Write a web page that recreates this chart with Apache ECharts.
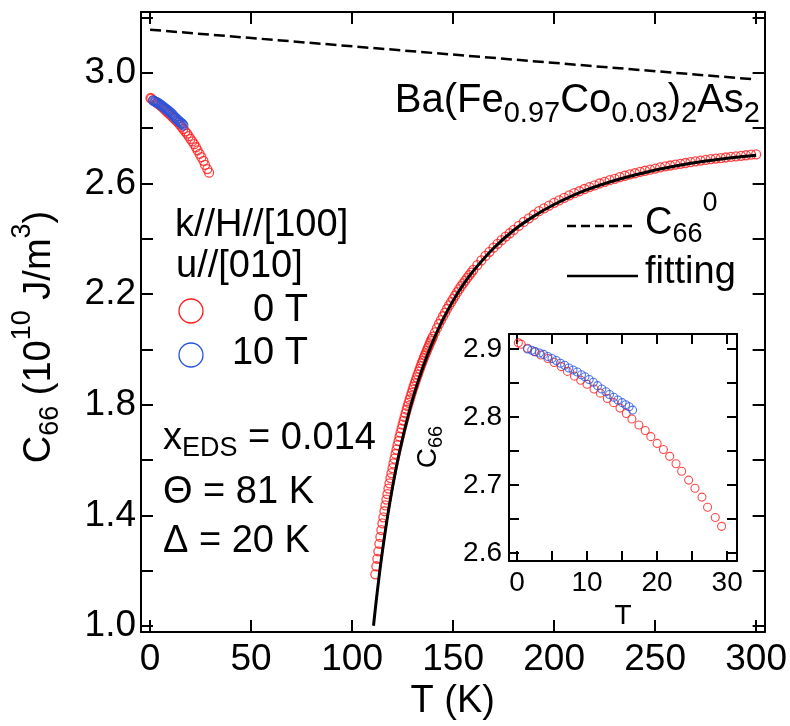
<!DOCTYPE html>
<html>
<head>
<meta charset="utf-8">
<script src="https://cdn.jsdelivr.net/npm/echarts@6/dist/echarts.min.js"></script>
<style>
  html, body { margin: 0; padding: 0; background: #fff; }
  #chart { width: 790px; height: 726px; }
</style>
</head>
<body>
<div id="chart"></div>
<script>
const FONT = "'Liberation Sans', Arial, Helvetica, sans-serif";
const RED = '#ff1a1a';
const BLUE = '#2455e0';

// C66^0 background (dashed line), T in K, C66 in 10^10 J/m^3
const bgT = [0, 300];
const bgC = [3.156, 2.976];

// 0 T data, low-temperature branch (below the structural transition)
const lowT0 = [0.2, 0.6, 1.5, 2.5, 3.4, 4.4, 5.3, 6.3, 7.2, 8.2, 9.1, 10.0, 11.0, 11.9, 12.9, 13.8, 14.7, 15.6,
  16.4, 17.4, 18.3, 19.1, 20.0, 20.9, 21.8, 22.7, 23.5, 24.5, 25.4, 26.4, 27.2, 28.3, 29.2];
const lowC0 = [2.909, 2.907, 2.901, 2.896, 2.891, 2.886, 2.880, 2.874, 2.867, 2.860, 2.854, 2.848, 2.841, 2.835, 2.827, 2.821, 2.813, 2.805,
  2.797, 2.788, 2.780, 2.771, 2.761, 2.752, 2.742, 2.731, 2.720, 2.707, 2.695, 2.682, 2.667, 2.652, 2.639];

// 10 T data, low-temperature branch
const lowT10 = [1.5, 2.1, 2.6, 3.2, 3.8, 4.4, 5.0, 5.6, 6.2, 6.8, 7.4, 8.0, 8.6, 9.2, 9.7, 10.3, 10.9, 11.5,
  12.1, 12.7, 13.2, 13.8, 14.4, 15.0, 15.5, 16.0, 16.5];
const lowC10 = [2.900, 2.898, 2.896, 2.894, 2.892, 2.889, 2.886, 2.883, 2.879, 2.876, 2.872, 2.869, 2.866, 2.862, 2.859, 2.855, 2.851, 2.846,
  2.841, 2.837, 2.833, 2.829, 2.825, 2.821, 2.818, 2.815, 2.810];

// 0 T data, high-temperature branch (softening towards Ts)
const highT0 = [
  111.5, 112.0, 112.5, 113.0, 113.5, 114.0, 114.5, 115.0, 115.5, 116.0, 116.5, 117.0, 117.5, 118.0, 118.5, 119.0, 119.5, 120.0,
  120.5, 121.0, 121.5, 122.0, 122.5, 123.0, 123.5, 124.0, 124.5, 125.0, 125.5, 126.0, 126.5, 127.0, 127.5, 128.0, 128.5, 129.0,
  129.5, 130.0, 130.5, 131.0, 131.5, 132.0, 132.5, 133.0, 133.5, 134.0, 134.5, 135.0, 135.5, 136.0, 136.5, 137.0, 137.5, 138.0,
  138.5, 139.0, 139.5, 140.0,
  141, 142, 143, 144, 145, 146, 147, 148, 149, 150, 151, 152, 153, 154, 155, 156, 157, 158, 159, 160,
  162, 164, 166, 168, 170, 172, 174, 176, 178, 180,
  182.5, 185, 187.5, 190, 192.5, 195, 197.5, 200, 202.5, 205, 207.5, 210, 212.5, 215, 217.5, 220, 222.5, 225, 227.5, 230,
  232.5, 235, 237.5, 240, 242.5, 245, 247.5, 250, 252.5, 255, 257.5, 260, 262.5, 265, 267.5, 270, 272.5, 275, 277.5, 280,
  282.5, 285, 287.5, 290, 292.5, 295, 297.5, 300];
const highC0 = [
  1.187, 1.216, 1.243, 1.270, 1.297, 1.322, 1.347, 1.371, 1.393, 1.415, 1.436, 1.457, 1.477, 1.497, 1.516, 1.535, 1.553, 1.571,
  1.588, 1.605, 1.622, 1.638, 1.654, 1.669, 1.685, 1.699, 1.714, 1.728, 1.742, 1.755, 1.769, 1.782, 1.795, 1.807, 1.819, 1.831,
  1.843, 1.855, 1.866, 1.877, 1.888, 1.899, 1.909, 1.920, 1.930, 1.940, 1.950, 1.959, 1.969, 1.978, 1.987, 1.996, 2.005, 2.013,
  2.022, 2.030, 2.038, 2.046,
  2.062, 2.077, 2.092, 2.106, 2.120, 2.133, 2.147, 2.159, 2.171, 2.183, 2.195, 2.207, 2.218, 2.229, 2.239, 2.249, 2.259, 2.269, 2.278, 2.288,
  2.305, 2.322, 2.338, 2.353, 2.368, 2.382, 2.395, 2.408, 2.420, 2.432,
  2.447, 2.461, 2.474, 2.487, 2.500, 2.510, 2.520, 2.530, 2.539, 2.548, 2.557, 2.565, 2.572, 2.580, 2.587, 2.593, 2.600, 2.606, 2.612, 2.617,
  2.623, 2.628, 2.633, 2.637, 2.642, 2.646, 2.650, 2.654, 2.658, 2.662, 2.665, 2.668, 2.671, 2.674, 2.677, 2.680, 2.683, 2.685, 2.688, 2.690,
  2.692, 2.694, 2.696, 2.698, 2.700, 2.702, 2.704, 2.705];

// fitted curve (Theta = 81 K, Delta = 20 K)
const fitT = [110.6, 111, 112, 113, 114, 115, 116, 117, 118, 119, 120, 121, 122, 123, 124, 126, 128, 130, 133, 136,
  140, 145, 150, 155, 160, 170, 180, 190, 200, 215, 230, 245, 260, 275, 290, 300];
const fitC = [1.001, 1.029, 1.095, 1.157, 1.216, 1.270, 1.322, 1.371, 1.417, 1.460, 1.502, 1.541, 1.578, 1.613, 1.647, 1.710, 1.768, 1.821, 1.892, 1.955,
  2.029, 2.109, 2.176, 2.234, 2.284, 2.366, 2.431, 2.482, 2.524, 2.574, 2.611, 2.640, 2.663, 2.681, 2.695, 2.702];

// tick positions and labels
const mainXTicks = [0, 50, 100, 150, 200, 250, 300];
const mainYTicks = [1.0, 1.2, 1.4, 1.6, 1.8, 2.0, 2.2, 2.4, 2.6, 2.8, 3.0, 3.2];
const mainYLabels = [1.0, 1.4, 1.8, 2.2, 2.6, 3.0];
const insetXTicks = [0, 5, 10, 15, 20, 25, 30];
const insetXLabels = [0, 10, 20, 30];
const insetYTicks = [2.6, 2.65, 2.7, 2.75, 2.8, 2.85, 2.9];
const insetYLabels = [2.6, 2.7, 2.8, 2.9];

const zip = (t, c) => t.map((v, i) => [v, c[i]]);

function frameAxis(opts) {
  const a = {
    type: 'value',
    gridIndex: opts.grid,
    position: opts.position,
    min: opts.min,
    max: opts.max,
    splitLine: { show: false },
    axisLine: { show: true, onZero: false, lineStyle: { color: '#000', width: 2 } },
    axisTick: { show: true, inside: true, length: opts.tickLen, customValues: opts.ticks,
      lineStyle: { color: '#000', width: 2 } },
    axisLabel: { show: false }
  };
  if (opts.labels) {
    a.axisLabel = {
      show: true, customValues: opts.labels, color: '#000', fontFamily: FONT,
      fontSize: opts.fontSize, margin: opts.margin, formatter: opts.formatter
    };
  }
  return a;
}

// rich styles: m = main text, s = subscript (shifted down), p = superscript (shifted up)
function scriptRich(size, small, drop, rise) {
  return {
    m: { fontSize: size, fontFamily: FONT, fill: '#000', lineHeight: Math.round(size * 1.2) },
    s: { fontSize: small, fontFamily: FONT, fill: '#000', lineHeight: 10, padding: [2 * drop, 0, 0, 0] },
    p: { fontSize: small, fontFamily: FONT, fill: '#000', lineHeight: 10, padding: [0, 0, 2 * rise, 0] }
  };
}

const chart = echarts.init(document.getElementById('chart'), null, { renderer: 'canvas' });

const option = {
  animation: false,
  backgroundColor: '#fff',
  grid: [
    { left: 141, right: 25, top: 12, bottom: 93, containLabel: false },
    { left: 509, right: 53, top: 334, bottom: 165, containLabel: false, show: true, backgroundColor: '#fff', borderWidth: 0 }
  ],
  xAxis: [
    Object.assign(frameAxis({ grid: 0, position: 'bottom', min: -4.5, max: 304.2, tickLen: 12, ticks: mainXTicks,
      labels: mainXTicks, fontSize: 37, margin: 9, formatter: v => String(v) }),
      { name: 'T (K)', nameLocation: 'middle', nameGap: 50,
        nameTextStyle: { fontSize: 38, fontFamily: FONT, color: '#000' } }),
    frameAxis({ grid: 0, position: 'top', min: -4.5, max: 304.2, tickLen: 12, ticks: mainXTicks }),
    Object.assign(frameAxis({ grid: 1, position: 'bottom', min: -1.14, max: 31.4, tickLen: 10, ticks: insetXTicks,
      labels: insetXLabels, fontSize: 28, margin: 8, formatter: v => String(v) }),
      { name: 'T', nameLocation: 'middle', nameGap: 41,
        nameTextStyle: { fontSize: 28, fontFamily: FONT, color: '#000' } }),
    frameAxis({ grid: 1, position: 'top', min: -1.14, max: 31.4, tickLen: 10, ticks: insetXTicks })
  ],
  yAxis: [
    frameAxis({ grid: 0, position: 'left', min: 0.978, max: 3.22, tickLen: 12, ticks: mainYTicks,
      labels: mainYLabels, fontSize: 37, margin: 5, formatter: v => v.toFixed(1) }),
    frameAxis({ grid: 0, position: 'right', min: 0.978, max: 3.22, tickLen: 12, ticks: mainYTicks }),
    frameAxis({ grid: 1, position: 'left', min: 2.588, max: 2.922, tickLen: 10, ticks: insetYTicks,
      labels: insetYLabels, fontSize: 28, margin: 7, formatter: v => v.toFixed(1) }),
    frameAxis({ grid: 1, position: 'right', min: 2.588, max: 2.922, tickLen: 10, ticks: insetYTicks })
  ],
  series: [
    { name: 'C66^0', type: 'line', xAxisIndex: 0, yAxisIndex: 0, data: zip(bgT, bgC), symbol: 'none',
      lineStyle: { color: '#000', width: 2.5, type: [11, 5] }, silent: true },
    { name: '0 T', type: 'scatter', xAxisIndex: 0, yAxisIndex: 0,
      data: zip(lowT0, lowC0).concat(zip(highT0, highC0)), symbol: 'circle', symbolSize: 9,
      itemStyle: { color: 'rgba(0,0,0,0)', borderColor: RED, borderWidth: 1.3 }, silent: true },
    { name: '10 T', type: 'scatter', xAxisIndex: 0, yAxisIndex: 0,
      data: zip(lowT10, lowC10), symbol: 'circle', symbolSize: 9,
      itemStyle: { color: 'rgba(0,0,0,0)', borderColor: BLUE, borderWidth: 1.3 }, silent: true },
    { name: 'fitting', type: 'line', xAxisIndex: 0, yAxisIndex: 0, data: zip(fitT, fitC), symbol: 'none',
      smooth: 0.2, lineStyle: { color: '#000', width: 3 }, silent: true, z: 5 },
    { name: '0 T inset', type: 'scatter', xAxisIndex: 2, yAxisIndex: 2,
      data: zip(lowT0, lowC0), symbol: 'circle', symbolSize: 8,
      itemStyle: { color: 'rgba(0,0,0,0)', borderColor: RED, borderWidth: 1.1 }, silent: true },
    { name: '10 T inset', type: 'scatter', xAxisIndex: 2, yAxisIndex: 2,
      data: zip(lowT10, lowC10), symbol: 'circle', symbolSize: 8,
      itemStyle: { color: 'rgba(0,0,0,0)', borderColor: BLUE, borderWidth: 1.1 }, silent: true }
  ],
  graphic: [
    // compound formula
    { type: 'text', x: 760, y: 101, z: 10,
      style: { text: '{m|Ba(Fe}{s|0.97}{m|Co}{s|0.03}{m|)}{s|2}{m|As}{s|2}',
        align: 'right', verticalAlign: 'middle', fontFamily: FONT, fontSize: 40, fill: '#000',
        rich: scriptRich(40, 29, 13, 0) } },
    // measurement geometry
    { type: 'text', x: 175, y: 226, z: 10,
      style: { text: 'k//H//[100]', fontFamily: FONT, fontSize: 38, fill: '#000', align: 'left', verticalAlign: 'middle' } },
    { type: 'text', x: 176, y: 267, z: 10,
      style: { text: 'u//[010]', fontFamily: FONT, fontSize: 38, fill: '#000', align: 'left', verticalAlign: 'middle' } },
    // field legend
    { type: 'circle', z: 10, shape: { cx: 191, cy: 311, r: 12 }, style: { fill: 'none', stroke: RED, lineWidth: 1.3 } },
    { type: 'text', x: 308, y: 311, z: 10,
      style: { text: '0 T', fontFamily: FONT, fontSize: 38, fill: '#000', align: 'right', verticalAlign: 'middle' } },
    { type: 'circle', z: 10, shape: { cx: 191, cy: 355, r: 12 }, style: { fill: 'none', stroke: BLUE, lineWidth: 1.3 } },
    { type: 'text', x: 308, y: 354, z: 10,
      style: { text: '10 T', fontFamily: FONT, fontSize: 38, fill: '#000', align: 'right', verticalAlign: 'middle' } },
    // fit parameters
    { type: 'text', x: 163, y: 439, z: 10,
      style: { text: '{m|x}{s|EDS}{m| = 0.014}', fontFamily: FONT, fontSize: 38, fill: '#000',
        align: 'left', verticalAlign: 'middle', rich: scriptRich(38, 27, 10, 0) } },
    { type: 'text', x: 163, y: 493, z: 10,
      style: { text: 'Θ = 81 K', fontFamily: FONT, fontSize: 38, fill: '#000', align: 'left', verticalAlign: 'middle' } },
    { type: 'text', x: 163, y: 542, z: 10,
      style: { text: 'Δ = 20 K', fontFamily: FONT, fontSize: 38, fill: '#000', align: 'left', verticalAlign: 'middle' } },
    // line legend
    { type: 'line', z: 10, shape: { x1: 567, y1: 226, x2: 637, y2: 226 },
      style: { stroke: '#000', lineWidth: 2.5, lineDash: [9, 5] } },
    { type: 'text', x: 645, y: 224, z: 10,
      style: { text: '{m|C}{s|66}{p|0}', fontFamily: FONT, fontSize: 38, fill: '#000',
        align: 'left', verticalAlign: 'middle', rich: scriptRich(38, 27, 11, 20) } },
    { type: 'line', z: 10, shape: { x1: 567, y1: 276, x2: 638, y2: 276 },
      style: { stroke: '#000', lineWidth: 2.5 } },
    { type: 'text', x: 645, y: 273, z: 10,
      style: { text: 'fitting', fontFamily: FONT, fontSize: 38, fill: '#000', align: 'left', verticalAlign: 'middle' } },
    // y-axis titles
    { type: 'text', x: 40, y: 337, rotation: Math.PI / 2, z: 10,
      style: { text: '{m|C}{s|66}{m| (10}{p|10}{m| J/m}{p|3}{m|)}', fontFamily: FONT, fontSize: 38, fill: '#000',
        align: 'center', verticalAlign: 'middle', rich: scriptRich(38, 27, 11, 17) } },
    { type: 'text', x: 428, y: 447, rotation: Math.PI / 2, z: 10,
      style: { text: '{m|C}{s|66}', fontFamily: FONT, fontSize: 28, fill: '#000',
        align: 'center', verticalAlign: 'middle', rich: scriptRich(28, 20, 8, 0) } }
  ]
};

chart.setOption(option);
</script>
</body>
</html>
